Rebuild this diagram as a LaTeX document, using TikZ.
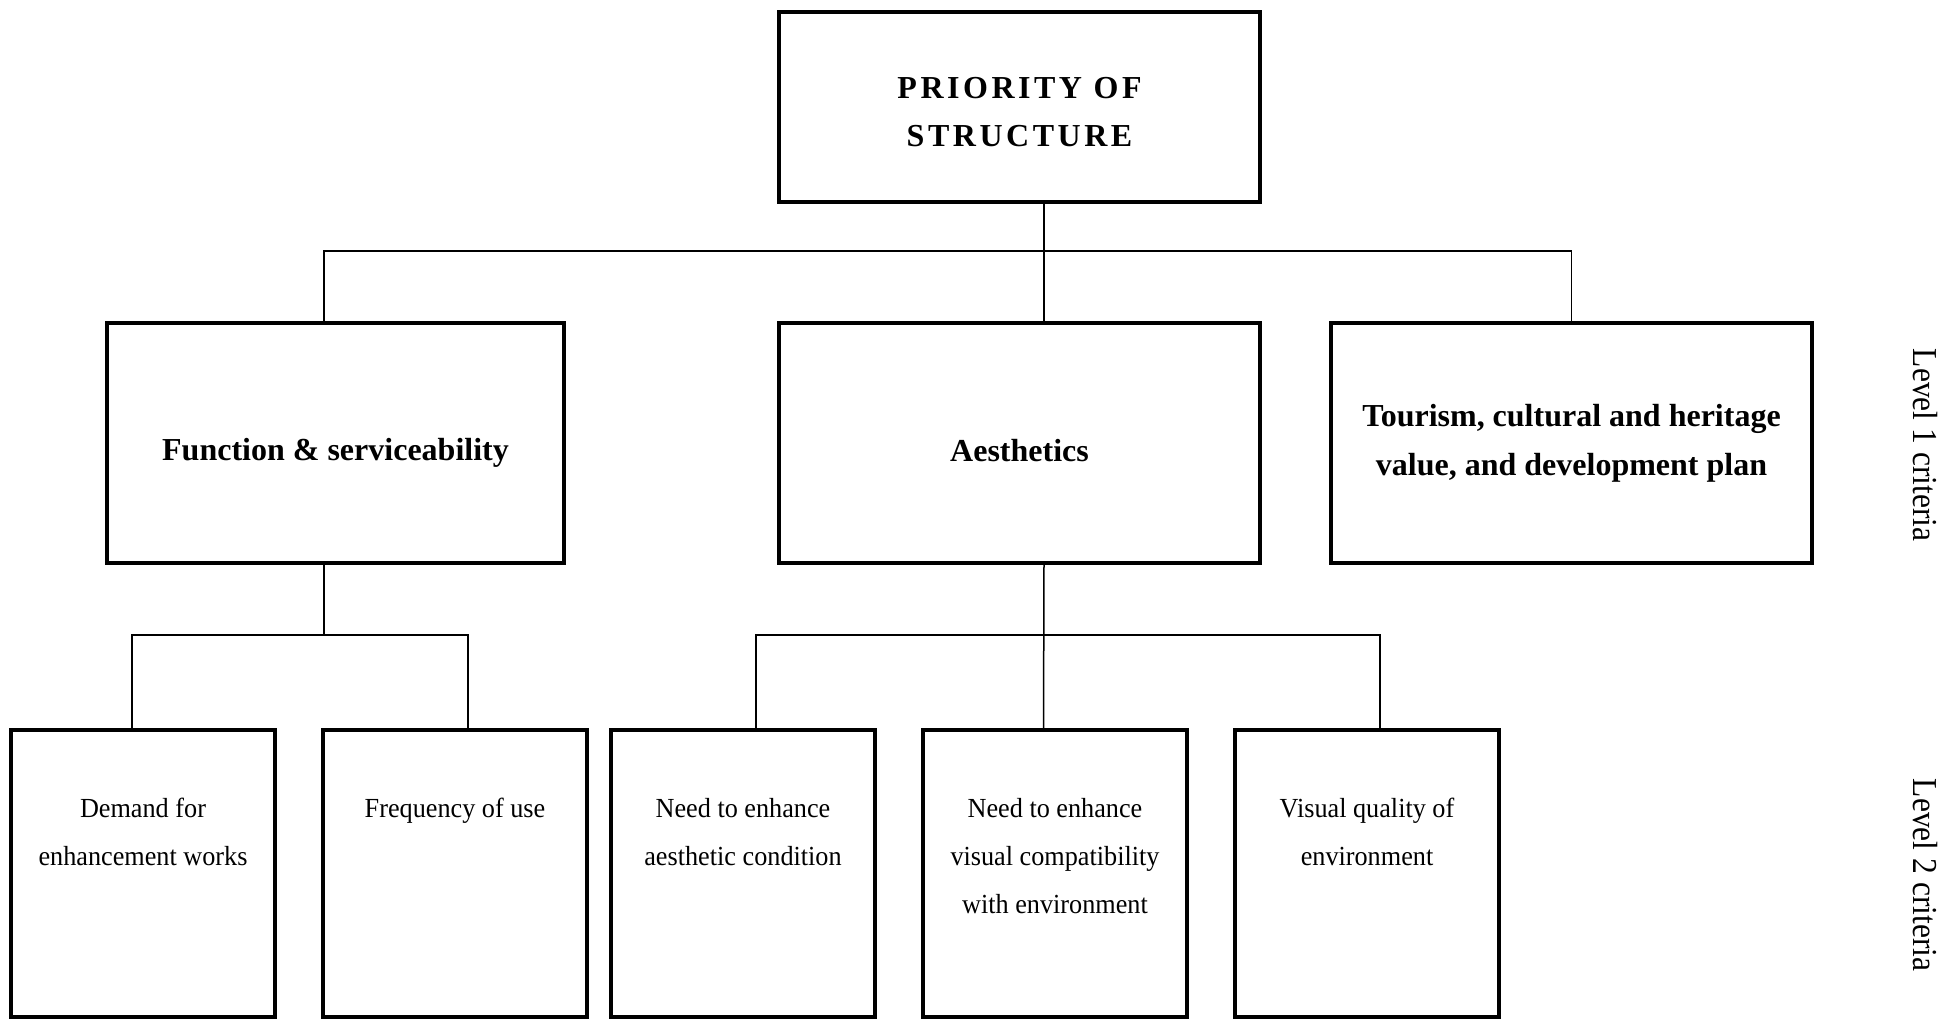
\documentclass[tikz,border=0pt]{standalone}
\usepackage{fontspec}
\setmainfont{Liberation Serif}
\usetikzlibrary{positioning}
\newcommand{\leaftext}[1]{\begin{minipage}[t][143.5pt][t]{128pt}\centering\rule{0pt}{43.5pt}#1\end{minipage}}
\newcommand{\textdrop}[2]{\raisebox{-#1}[\height][\depth]{#2}}

\begin{document}
\begin{tikzpicture}[x=0.5pt,y=-0.5pt,
		box/.style={draw,rectangle,line width=2pt,outer sep=0pt,inner sep=0pt},
		goal/.style={box,minimum width=240.5pt,minimum height=95pt,align=center,
			font=\fontsize{16}{24}\selectfont\bfseries\addfontfeatures{LetterSpace=11}},
		crit/.style={box,minimum width=240.5pt,minimum height=120pt,align=center,
			font=\fontsize{16}{24.3}\selectfont\bfseries},
		sub/.style={box,minimum width=132pt,minimum height=143.5pt,
			font=\fontsize{13.8}{24.1}\selectfont\addfontfeatures{FakeStretch=0.95}},
		level/.style={rotate=-90,font=\fontsize{17.5}{20}\selectfont\addfontfeatures{FakeStretch=0.9}},
		link/.style={line width=0.75pt}]
	\useasboundingbox (0,0) rectangle (1954,1019);
	\node[goal] (prio) at (1019.5,107) {\textdrop{3pt}{\begin{tabular}{@{}c@{}}PRIORITY OF\\STRUCTURE\end{tabular}}};
	\node[crit] (aes)  [below=60.5pt of prio] {\textdrop{3.7pt}{Aesthetics}};
	\node[crit,minimum width=228.5pt] (fun) [left=107.5pt of aes] {\textdrop{5pt}{Function \& serviceability}};
	\node[crit] (tour) [right=35.5pt of aes] {Tourism, cultural and heritage\\value, and development plan};
	
	\node[sub] (dem)  at (143,873.5)       {\leaftext{Demand for\\enhancement works}};
	\node[sub] (freq) [right=24pt of dem]  {\leaftext{Frequency of use}};
	\node[sub] (need) [right=12pt of freq] {\leaftext{Need to enhance\\aesthetic condition}};
	\node[sub] (comp) [right=24pt of need] {\leaftext{Need to enhance\\visual compatibility\\with environment}};
	\node[sub] (vis)  [right=24pt of comp] {\leaftext{Visual quality of\\environment}};
	
	\node[level] (lev1) at (1925,445) {Level 1 criteria};
	\node[level] (lev2) at (1925,875) {Level 2 criteria};
	
	\coordinate (bus1) at (1044,251);
	\coordinate (bus2) at (1044,635);
	\draw[link] ([xshift=12.25pt]prio.south) -- ([xshift=12.25pt]aes.north);
	\draw[link] ([xshift=-5.75pt]fun.north) |- (bus1) -| (tour.north);
	\draw[link] ([xshift=-5.75pt]fun.south) -- ([xshift=-5.75pt]fun.south |- bus2);
	\draw[link] ([xshift=-5.5pt]dem.north) |- ([xshift=6.5pt]freq.north |- bus2) -- ([xshift=6.5pt]freq.north);
	\draw[link] ([xshift=12.25pt]aes.south) -- ([xshift=-5.75pt]comp.north);
	\draw[link] ([xshift=6.5pt]need.north) |- (bus2) -| ([xshift=6.5pt]vis.north);
\end{tikzpicture}
\end{document}
